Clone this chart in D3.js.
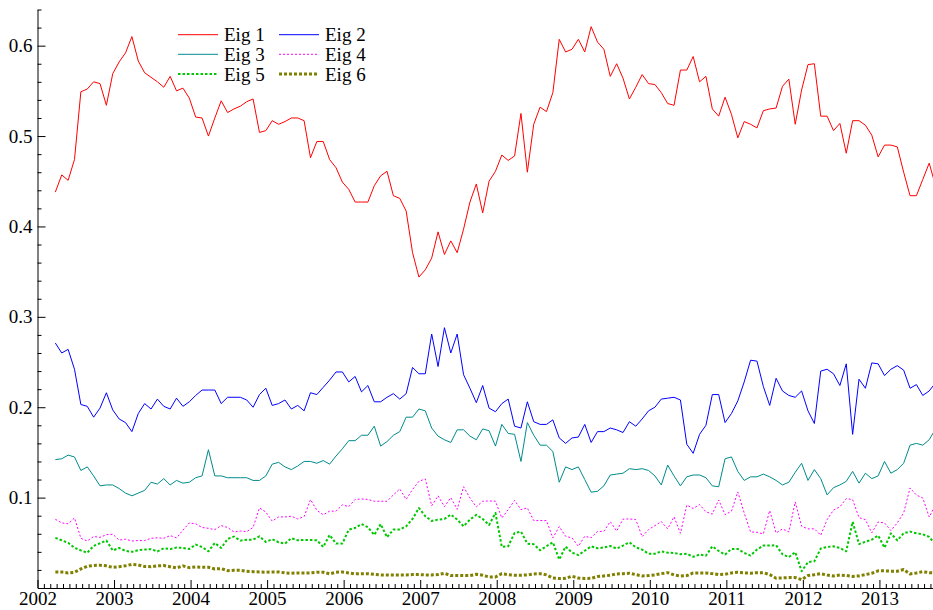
<!DOCTYPE html>
<html>
<head>
<meta charset="utf-8">
<script src="https://cdn.jsdelivr.net/npm/d3@7"></script>
<style>
  html, body { margin: 0; padding: 0; background: #fff; }
  svg { display: block; }
  text { font-family: "Liberation Serif", "DejaVu Serif", serif; }
</style>
</head>
<body>
<svg id="chart" width="933" height="610"></svg>
<script>
// ---------- data (monthly, first point ~ end of March 2002) ----------
const firstMonthOffset = 2.8;          // months after Jan 1 2002 of first observation
const seriesNames = ["Eig 1", "Eig 2", "Eig 3", "Eig 4", "Eig 5", "Eig 6"];

const eig1 = [
  0.438,0.457,0.451,0.474,0.549,0.552,0.560,0.558,0.534,0.569,
  0.582,0.592,0.610,0.583,0.570,0.565,0.560,0.554,0.566,0.550,
  0.553,0.542,0.521,0.520,0.500,0.520,0.539,0.526,0.530,0.533,
  0.538,0.541,0.504,0.506,0.517,0.513,0.516,0.520,0.520,0.517,
  0.476,0.494,0.494,0.474,0.465,0.449,0.441,0.427,0.427,0.427,
  0.445,0.456,0.461,0.434,0.431,0.417,0.371,0.344,0.352,0.365,
  0.394,0.369,0.384,0.371,0.397,0.427,0.447,0.415,0.450,0.461,
  0.479,0.473,0.478,0.525,0.460,0.513,0.532,0.527,0.548,0.607,
  0.593,0.596,0.607,0.593,0.621,0.604,0.596,0.566,0.580,0.564,
  0.541,0.554,0.568,0.558,0.557,0.548,0.536,0.534,0.573,0.573,
  0.588,0.560,0.566,0.530,0.522,0.543,0.524,0.498,0.516,0.513,
  0.509,0.528,0.530,0.531,0.555,0.563,0.513,0.551,0.579,0.580,
  0.522,0.522,0.506,0.514,0.481,0.517,0.517,0.512,0.501,0.477,
  0.490,0.490,0.488,0.460,0.434,0.434,0.452,0.470,0.445
];
const eig2 = [
  0.271,0.260,0.264,0.242,0.203,0.201,0.189,0.199,0.216,0.197,
  0.187,0.183,0.173,0.193,0.204,0.198,0.209,0.201,0.198,0.210,
  0.201,0.206,0.213,0.219,0.219,0.219,0.204,0.211,0.211,0.211,
  0.208,0.200,0.214,0.221,0.202,0.204,0.208,0.198,0.202,0.196,
  0.216,0.214,0.222,0.230,0.239,0.239,0.228,0.234,0.217,0.224,
  0.206,0.206,0.211,0.215,0.209,0.215,0.244,0.237,0.237,0.281,
  0.245,0.288,0.260,0.281,0.236,0.221,0.205,0.224,0.199,0.195,
  0.204,0.209,0.179,0.177,0.206,0.184,0.181,0.181,0.186,0.166,
  0.160,0.166,0.167,0.181,0.161,0.173,0.173,0.177,0.175,0.172,
  0.184,0.179,0.187,0.196,0.200,0.209,0.210,0.211,0.208,0.159,
  0.149,0.170,0.180,0.214,0.214,0.183,0.193,0.207,0.228,0.252,
  0.251,0.223,0.202,0.232,0.218,0.213,0.211,0.218,0.196,0.182,
  0.240,0.242,0.237,0.224,0.248,0.170,0.231,0.221,0.249,0.248,
  0.235,0.242,0.246,0.241,0.221,0.225,0.213,0.218,0.227
];
const eig3 = [
  0.142,0.143,0.147,0.145,0.130,0.134,0.124,0.113,0.114,0.114,
  0.110,0.105,0.102,0.105,0.108,0.117,0.115,0.121,0.114,0.119,
  0.116,0.117,0.122,0.124,0.153,0.124,0.124,0.122,0.122,0.122,
  0.122,0.119,0.119,0.124,0.137,0.139,0.134,0.131,0.135,0.140,
  0.140,0.138,0.141,0.137,0.146,0.154,0.163,0.163,0.169,0.169,
  0.179,0.157,0.162,0.169,0.173,0.189,0.189,0.198,0.196,0.177,
  0.168,0.164,0.161,0.175,0.175,0.168,0.164,0.176,0.174,0.157,
  0.181,0.171,0.170,0.140,0.183,0.169,0.158,0.158,0.151,0.117,
  0.134,0.131,0.134,0.120,0.106,0.107,0.113,0.125,0.126,0.127,
  0.132,0.131,0.132,0.130,0.124,0.114,0.136,0.124,0.113,0.123,
  0.125,0.125,0.122,0.113,0.112,0.143,0.145,0.129,0.119,0.123,
  0.123,0.126,0.123,0.119,0.114,0.117,0.128,0.138,0.119,0.131,
  0.121,0.103,0.111,0.114,0.118,0.129,0.116,0.127,0.121,0.124,
  0.140,0.127,0.131,0.138,0.158,0.160,0.158,0.164,0.176
];
const eig4 = [
  0.076,0.072,0.071,0.0775,0.055,0.052,0.057,0.056,0.059,0.0595,
  0.053,0.054,0.052,0.0525,0.0525,0.055,0.0555,0.055,0.058,0.0555,
  0.064,0.072,0.071,0.067,0.066,0.0646,0.069,0.067,0.062,0.063,
  0.0624,0.067,0.0886,0.084,0.074,0.0786,0.0786,0.0794,0.0764,0.079,
  0.0978,0.086,0.081,0.085,0.085,0.092,0.090,0.098,0.0985,0.098,
  0.096,0.096,0.096,0.103,0.1096,0.098,0.109,0.118,0.1206,0.091,
  0.102,0.090,0.100,0.087,0.112,0.0996,0.0897,0.096,0.0963,0.096,
  0.0775,0.0867,0.097,0.0867,0.0886,0.0746,0.0746,0.0746,0.0554,0.068,
  0.0572,0.0554,0.0462,0.0572,0.0556,0.0625,0.0627,0.0735,0.063,0.0762,
  0.0764,0.0757,0.0568,0.0646,0.069,0.0735,0.0654,0.0788,0.0605,0.0917,
  0.088,0.0923,0.0843,0.0818,0.0974,0.0812,0.0849,0.1063,0.083,0.062,
  0.0617,0.0598,0.0856,0.0609,0.0654,0.062,0.0952,0.0683,0.0654,0.0655,
  0.0584,0.0757,0.0862,0.0898,0.0989,0.0978,0.0778,0.0757,0.061,0.073,
  0.072,0.0636,0.072,0.083,0.1107,0.1028,0.0996,0.0785,0.092
];
const eig5 = [
  0.0554,0.0528,0.050,0.0445,0.0416,0.039,0.0466,0.0495,0.0526,0.0415,
  0.0443,0.041,0.0400,0.0418,0.0425,0.0430,0.0405,0.0440,0.0430,0.0447,
  0.0443,0.0432,0.048,0.0454,0.0406,0.0498,0.0443,0.0543,0.0569,0.0524,
  0.0535,0.0535,0.0572,0.051,0.054,0.0506,0.0491,0.055,0.0528,0.0532,
  0.0532,0.0528,0.0454,0.0587,0.0491,0.0491,0.0646,0.0664,0.0708,0.0672,
  0.0587,0.0708,0.0561,0.0646,0.0646,0.0683,0.0764,0.0885,0.0794,0.0742,
  0.0757,0.0764,0.0812,0.0757,0.0683,0.0757,0.0809,0.0764,0.0697,0.083,
  0.0454,0.0462,0.0609,0.0624,0.0491,0.0484,0.0417,0.0462,0.0506,0.0315,
  0.0458,0.0392,0.0364,0.0412,0.0461,0.044,0.0448,0.0465,0.0436,0.0469,
  0.0506,0.045,0.0425,0.0379,0.0379,0.0406,0.0391,0.0388,0.0374,0.0379,
  0.0345,0.037,0.0358,0.0461,0.041,0.037,0.0432,0.0432,0.0388,0.0359,
  0.0425,0.0469,0.0469,0.0473,0.0373,0.0342,0.0397,0.0185,0.0287,0.0296,
  0.0437,0.0454,0.0461,0.0443,0.0406,0.0732,0.0486,0.0511,0.0535,0.058,
  0.0446,0.0605,0.0526,0.0606,0.0624,0.0605,0.0594,0.0566,0.048
];
const eig6 = [
  0.0178,0.0176,0.0167,0.0174,0.0211,0.024,0.0249,0.0252,0.0245,0.0228,
  0.0236,0.0245,0.0262,0.0255,0.0238,0.0236,0.0245,0.0249,0.0235,0.0222,
  0.0245,0.0225,0.0233,0.0229,0.0229,0.0211,0.0215,0.0192,0.0196,0.0196,
  0.0185,0.0181,0.0178,0.0174,0.0178,0.0178,0.0167,0.0163,0.0167,0.0167,
  0.0167,0.0174,0.0174,0.0156,0.0174,0.0178,0.0167,0.0156,0.0159,0.0159,
  0.0152,0.0145,0.0145,0.0145,0.0145,0.0145,0.0148,0.0148,0.0145,0.0145,
  0.0148,0.0163,0.0137,0.0137,0.0137,0.0137,0.0152,0.0141,0.0122,0.0122,
  0.0159,0.0148,0.0141,0.0141,0.0145,0.0156,0.0159,0.0145,0.0111,0.0104,
  0.0108,0.013,0.0111,0.0104,0.0108,0.0126,0.0133,0.0141,0.0156,0.0159,
  0.0163,0.0148,0.0133,0.0137,0.0145,0.0159,0.017,0.0145,0.0133,0.0137,
  0.0167,0.0167,0.0167,0.0159,0.0148,0.0152,0.0167,0.0174,0.0167,0.0163,
  0.017,0.017,0.0148,0.0108,0.0112,0.0115,0.0115,0.0093,0.0138,0.0147,
  0.0158,0.0143,0.0134,0.0143,0.0138,0.0128,0.0134,0.0148,0.0163,0.019,
  0.019,0.0186,0.0186,0.0204,0.0156,0.0167,0.018,0.017,0.0165
];

const yearTicks = [2002,2003,2004,2005,2006,2007,2008,2009,2010,2011,2012,2013];
const yTickValues = [0.1,0.2,0.3,0.4,0.5,0.6];

// ---------- styles ----------
const styles = [
  { color: "#ff0000", width: 1,   dash: null },
  { color: "#0000ff", width: 1,   dash: null },
  { color: "#008b8b", width: 1,   dash: null },
  { color: "#ff00ff", width: 1,   dash: "2,2" },
  { color: "#00c800", width: 2,   dash: "2.5,2" },
  { color: "#808000", width: 3,   dash: "3,2" }
];
const allSeries = [eig1, eig2, eig3, eig4, eig5, eig6];

// ---------- chart ----------
const svg = d3.select("#chart");
const x = d3.scaleLinear().domain([2002, 2013.70]).range([37.5, 933]);
const y = d3.scaleLinear().domain([0, 0.64]).range([588, 9.5]);

const times = d3.range(eig1.length).map(i => 2002 + (i + firstMonthOffset) / 12);

const line = d3.line().x((d, i) => x(times[i])).y(d => y(d));

allSeries.forEach((s, k) => {
  const st = styles[k];
  svg.append("path")
    .datum(s)
    .attr("fill", "none")
    .attr("stroke", st.color)
    .attr("stroke-width", st.width)
    .attr("stroke-dasharray", st.dash)
    .attr("stroke-linejoin", "round")
    .attr("d", line);
});

// minor ticks
const yMinor = d3.range(0.02, 0.641, 0.02).filter(v => Math.abs(v * 10 - Math.round(v * 10)) > 1e-6);
const xMinor = d3.range(2002 + 1/12, 2013.71, 1/12).filter(v => Math.abs(v - Math.round(v)) > 1e-6);

const fontSize = 19;

// y axis
const gY = svg.append("g").attr("transform", "translate(37.5,0)");
gY.call(d3.axisLeft(y).tickValues(yTickValues).tickSize(-8).tickSizeOuter(0)
  .tickPadding(5).tickFormat(d3.format(".1f")));
gY.append("g").call(d3.axisLeft(y).tickValues(yMinor).tickSize(-4).tickSizeOuter(0).tickFormat(""))
  .select(".domain").remove();

// x axis
const gX = svg.append("g").attr("transform", "translate(0,588)");
gX.call(d3.axisBottom(x).tickValues(yearTicks).tickSize(-8).tickSizeOuter(0)
  .tickPadding(4).tickFormat(d3.format("d")));
gX.append("g").call(d3.axisBottom(x).tickValues(xMinor).tickSize(-4).tickSizeOuter(0).tickFormat(""))
  .select(".domain").remove();

svg.selectAll("g").attr("font-family", null);
svg.selectAll(".tick text")
  .attr("font-size", fontSize)
  .attr("fill", "#000");
svg.selectAll(".domain, .tick line").attr("stroke", "#000");

// legend
const legCols = [178, 279];
const legRows = [34.7, 54.3, 74];
const leg = svg.append("g");
seriesNames.forEach((name, k) => {
  const cx = legCols[k % 2], cy = legRows[Math.floor(k / 2)];
  const st = styles[k];
  leg.append("line")
    .attr("x1", cx).attr("x2", cx + 40).attr("y1", cy).attr("y2", cy)
    .attr("stroke", st.color).attr("stroke-width", st.width)
    .attr("stroke-dasharray", st.dash);
  leg.append("text")
    .attr("x", cx + 46).attr("y", cy + 6.5)
    .attr("font-size", fontSize).attr("fill", "#000")
    .text(name);
});
</script>
</body>
</html>
